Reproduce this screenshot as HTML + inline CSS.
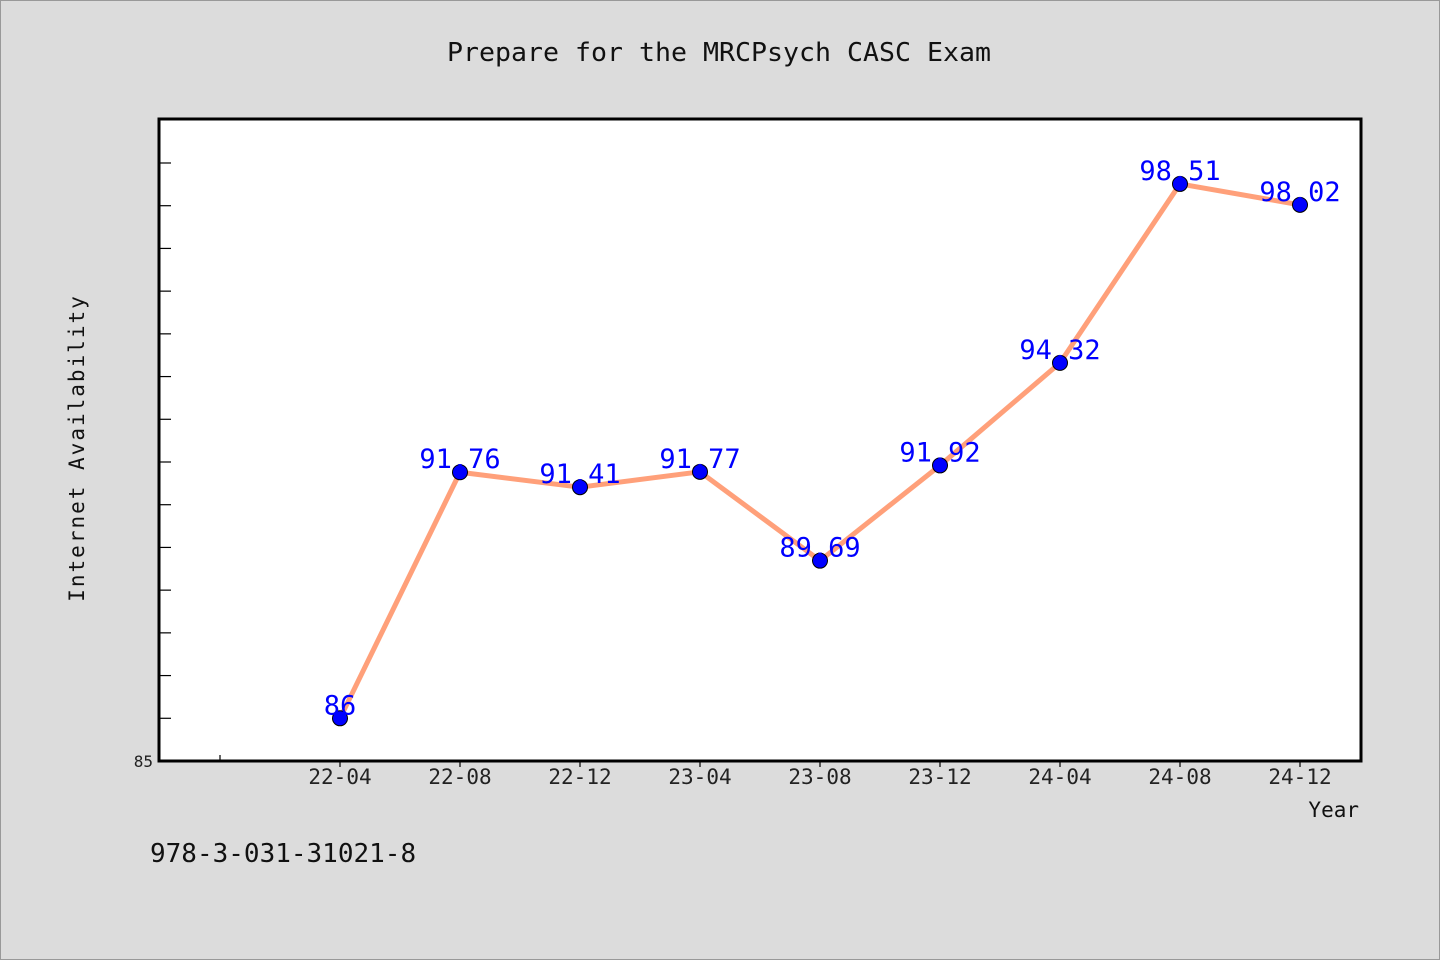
<!DOCTYPE html>
<html><head><meta charset="utf-8"><style>
html,body{margin:0;padding:0;background:#dcdcdc}
svg{display:block}
text{font-family:"WenQuanYi Zen Hei Mono","WenQuanYi Zen Hei","DejaVu Sans Mono",monospace}
</style></head><body>
<svg id="chart" width="1440" height="960" viewBox="0 0 1440 960">
<rect x="0.5" y="0.5" width="1439" height="959" fill="#dcdcdc" stroke="#999"/>
<text x="447" y="61" font-size="26" textLength="544" lengthAdjust="spacingAndGlyphs" fill="#111">Prepare for the MRCPsych CASC Exam</text>
<rect x="159" y="119" width="1202" height="642" fill="#fff" stroke="#000" stroke-width="3"/>
<g id="ticks"></g>
<g id="series"></g>
<text transform="translate(84,448) rotate(-90)" text-anchor="middle" font-size="21" fill="#111" letter-spacing="2">Internet Availability</text>
<text x="1359" y="817" text-anchor="end" font-size="21" fill="#111">Year</text>
<text x="150" y="862" font-size="26" fill="#111">978-3-031-31021-8</text>
</svg>
<script>
const categories = ["22-04","22-08","22-12","23-04","23-08","23-12","24-04","24-08","24-12"];
const values = [86, 91.76, 91.41, 91.77, 89.69, 91.92, 94.32, 98.51, 98.02];
const valueLabels = ["86","91.76","91.41","91.77","89.69","91.92","94.32","98.51","98.02"];
const yTicks = [85,86,87,88,89,90,91,92,93,94,95,96,97,98,99];
const yMin = 85, yMax = 100.03;
const NS = "http://www.w3.org/2000/svg";
function xPos(i){ return 340 + 120*i; }
function yPos(v){ return 761 - (v - yMin) / (yMax - yMin) * 642; }
function mk(tag, attrs, parent){ const e=document.createElementNS(NS,tag); for(const k in attrs) e.setAttribute(k,attrs[k]); parent.appendChild(e); return e; }
const tg = document.getElementById('ticks');
yTicks.forEach((t,i)=>{
  const l = mk('line',{x1:159,x2:171,y1:yPos(t),y2:yPos(t),stroke:'#000','stroke-width':1.2},tg);
  
  
});
const yl = mk('text',{x:153,y:767,'text-anchor':'end','font-size':16,fill:'#222'},tg);


yl.textContent = String(yTicks[0]);
const t0 = mk('line',{x1:xPos(-1),x2:xPos(-1),y1:755,y2:761,stroke:'#000','stroke-width':1.2},tg);


categories.forEach((c,i)=>{
  const l = mk('line',{x1:xPos(i),x2:xPos(i),y1:761,y2:767,stroke:'#000','stroke-width':1.2},tg);
  
  
  const t = mk('text',{x:xPos(i),y:784,'text-anchor':'middle','font-size':21,fill:'#222'},tg);
  
  
  t.textContent = c;
});
const sg = document.getElementById('series');
const line = mk('polyline',{points:values.map((v,i)=>xPos(i)+','+yPos(v)).join(' '),fill:'none',stroke:'#ffa07a','stroke-width':5,'stroke-linejoin':'round'},sg);


values.forEach((v,i)=>{
  const c = mk('circle',{cx:xPos(i),cy:yPos(v),r:7.5,fill:'#0000ff',stroke:'#000','stroke-width':1},sg);
  
  
  const t = mk('text',{x:xPos(i),y:yPos(v)+2-0,'text-anchor':'middle','font-size':27,fill:'#0000ff'},sg);
  t.setAttribute('y', yPos(v)-4);
  
  
  t.textContent = valueLabels[i];
});
</script>
</body></html>
